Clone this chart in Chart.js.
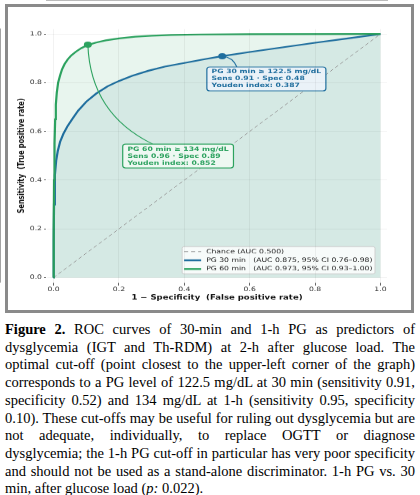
<!DOCTYPE html>
<html>
<head>
<meta charset="utf-8">
<script src="https://cdn.jsdelivr.net/npm/chart.js@4.4.1/dist/chart.umd.min.js"></script>
<style>
  html, body { margin: 0; padding: 0; background: #fff; }
  body { width: 420px; height: 495px; position: relative; overflow: hidden; }
  #frame { position: absolute; left: 5px; top: 4px; width: 409px; height: 309px; box-sizing: border-box;
           border: 3px solid #8a8a8a; background: #fff; }
  #roc { position: absolute; left: 0; top: 0; transform: scaleY(0.77); transform-origin: 0 0; }
  #caption { position: absolute; left: 5px; top: 321px; width: 410px; color: #000;
             font-family: "Liberation Serif", "Times New Roman", serif; font-size: 14.5px; line-height: 17.7px; }
  #caption div { text-align: justify; text-align-last: justify; }
  #caption div.last { text-align-last: left; }
</style>
</head>
<body>
<div id="frame"></div>
<canvas id="roc" width="420" height="405"></canvas>
<div id="caption">
  <div><b>Figure 2.</b> ROC curves of 30-min and 1-h PG as predictors of</div>
  <div>dysglycemia (IGT and Th-RDM) at 2-h after glucose load. The</div>
  <div>optimal cut-off (point closest to the upper-left corner of the graph)</div>
  <div>corresponds to a PG level of 122.5 mg/dL at 30 min (sensitivity 0.91,</div>
  <div>specificity 0.52) and 134 mg/dL at 1-h (sensitivity 0.95, specificity</div>
  <div>0.10). These cut-offs may be useful for ruling out dysglycemia but are</div>
  <div>not adequate, individually, to replace OGTT or diagnose</div>
  <div>dysglycemia; the 1-h PG cut-off in particular has very poor specificity</div>
  <div>and should not be used as a stand-alone discriminator. 1-h PG vs. 30</div>
  <div class="last">min, after glucose load (<i>p:</i> 0.022).</div>
</div>
<script>
// source figure is squashed vertically, canvas gets the same squash
const S = 0.77;

const TICKS = [0, 0.2, 0.4, 0.6, 0.8, 1.0];

const CHANCE_FPR = [0, 1];
const CHANCE_TPR = [0, 1];

const PG30_FPR = [0, 0.0005, 0.0015, 0.004, 0.008, 0.013, 0.02, 0.03, 0.042, 0.057, 0.075, 0.1, 0.13, 0.165,
                  0.2, 0.24, 0.29, 0.34, 0.4, 0.46, 0.516, 0.6, 0.7, 0.8, 0.9, 1.0];
const PG30_TPR = [0, 0.15, 0.3, 0.42, 0.48, 0.52, 0.557, 0.59, 0.62, 0.65, 0.685, 0.722, 0.755, 0.785,
                  0.807, 0.828, 0.849, 0.866, 0.881, 0.896, 0.909, 0.926, 0.945, 0.964, 0.982, 1.0];

const PG60_FPR = [0, 0.0005, 0.0015, 0.003, 0.005, 0.007, 0.01, 0.014, 0.02, 0.026, 0.034, 0.044, 0.055,
                  0.068, 0.085, 0.105, 0.13, 0.16, 0.2, 0.25, 0.3, 0.36, 0.45, 0.6, 1.0];
const PG60_TPR = [0, 0.2, 0.4, 0.55, 0.65, 0.71, 0.76, 0.80, 0.83, 0.855, 0.877, 0.897, 0.913,
                  0.927, 0.942, 0.955, 0.965, 0.974, 0.982, 0.989, 0.993, 0.996, 0.998, 0.999, 1.0];

// optimal cut-offs: PG 30, PG 60
const CUT_FPR = [0.516, 0.105];
const CUT_TPR = [0.909, 0.956];

const LEGEND_LABELS = ['Chance (AUC 0.500)',
                       'PG 30 min   (AUC 0.875, 95% CI 0.76\u20130.98)',
                       'PG 60 min   (AUC 0.973, 95% CI 0.93\u20131.00)'];

const NOTE_30 = ['PG 30 min \u2265 122.5 mg/dL', 'Sens 0.91 \u00b7 Spec 0.48', 'Youden index: 0.387'];
const NOTE_60 = ['PG 60 min \u2265 134 mg/dL', 'Sens 0.96 \u00b7 Spec 0.89', 'Youden index: 0.852'];

const BLUE = '#1f6e9e';
const GREEN = '#2ca25f';

function pts(xs, ys) {
    return xs.map((v, i) => ({x: v, y: ys[i]}));
}

// boxes anchored by top-left corner in data units
const NOTES = [
    {lines: NOTE_30, cut: 0, color: BLUE, bg: '#eaf2f8', box: [0.469, 0.8645], rad: -0.3},
    {lines: NOTE_60, cut: 1, color: GREEN, bg: '#eef8f2', box: [0.2116, 0.548], rad: 0.3}
];

const notesPlugin = {
    id: 'notes',
    afterDatasetsDraw(chart) {
        const ctx = chart.ctx;
        const xs = chart.scales.x, ys = chart.scales.y;
        const lh = 9, padX = 4.7, padY = 2;
        ctx.save();
        ctx.font = 'bold 7.7px "DejaVu Sans"';
        NOTES.forEach(n => {
            const mx = xs.getPixelForValue(CUT_FPR[n.cut]);
            const my = ys.getPixelForValue(CUT_TPR[n.cut]);
            const bx = xs.getPixelForValue(n.box[0]);
            const by = ys.getPixelForValue(n.box[1]);
            const w = Math.max(...n.lines.map(t => ctx.measureText(t).width)) + 2 * padX;
            const h = n.lines.length * lh + 2 * padY;

            // arc connector, bent in screen space
            const ex = bx + 30, ey = by;
            const ax = mx, ay = my * S, cx2 = ex, cy2 = ey * S;
            const midx = (ax + cx2) / 2, midy = (ay + cy2) / 2;
            const dx = cx2 - ax, dy = cy2 - ay;
            const qx = midx - n.rad * dy, qy = (midy + n.rad * dx) / S;
            ctx.beginPath();
            ctx.moveTo(mx, my);
            ctx.quadraticCurveTo(qx, qy, ex, ey);
            ctx.strokeStyle = n.color;
            ctx.lineWidth = 1.1;
            ctx.stroke();

            ctx.beginPath();
            ctx.roundRect(bx, by, w, h, 3);
            ctx.fillStyle = n.bg;
            ctx.fill();
            ctx.lineWidth = 1.2;
            ctx.stroke();

            ctx.fillStyle = n.color;
            ctx.textBaseline = 'middle';
            ctx.textAlign = 'left';
            n.lines.forEach((t, i) => {
                ctx.fillText(t, bx + padX, by + padY + lh * i + lh / 2);
            });
        });
        ctx.restore();
    }
};

const legendPlugin = {
    id: 'boxLegend',
    afterDatasetsDraw(chart) {
        const ctx = chart.ctx;
        const area = chart.chartArea;
        const items = chart.data.datasets.filter(d => d.inLegend);
        const rowH = 11.3, padY = 0.8, handle = 17;
        ctx.save();
        ctx.font = '7.7px "DejaVu Sans"';
        const tw = Math.max(...items.map(d => ctx.measureText(d.label).width));
        const w = 2 + handle + 5 + tw + 2.5;
        const h = items.length * rowH + 2 * padY;
        const right = area.right - 12, bottom = area.bottom - 11;
        const left = right - w, top = bottom - h;

        ctx.beginPath();
        ctx.roundRect(left, top, w, h, 2);
        ctx.fillStyle = 'rgba(255,255,255,0.8)';
        ctx.fill();
        ctx.strokeStyle = '#d0d0d0';
        ctx.lineWidth = 1;
        ctx.stroke();

        items.forEach((d, i) => {
            const cy = top + padY + rowH * i + rowH / 2;
            ctx.beginPath();
            ctx.setLineDash(d.borderDash || []);
            ctx.moveTo(left + 2, cy);
            ctx.lineTo(left + 2 + handle, cy);
            ctx.strokeStyle = d.borderColor;
            ctx.lineWidth = d.borderWidth * 1.1;
            ctx.stroke();
            ctx.setLineDash([]);
            ctx.fillStyle = '#222';
            ctx.textBaseline = 'middle';
            ctx.fillText(d.label, left + 2 + handle + 5, cy);
        });
        ctx.restore();
    }
};

function axis(title, fixSize) {
    return {
        type: 'linear',
        min: -0.02,
        max: 1.02,
        afterBuildTicks: s => { s.ticks = TICKS.map(v => ({value: v})); },
        afterFit: fixSize,
        ticks: {
            callback: v => v.toFixed(1),
            color: '#333',
            font: {family: 'DejaVu Sans', size: 7.7}
        },
        grid: {z: 1, color: 'rgba(0,0,0,0.05)', tickColor: '#666', tickLength: 3},
        border: {color: '#666', width: 1.2},
        title: {display: true, text: title, color: '#111',
                font: {family: 'DejaVu Sans', size: 8.5, weight: 'bold'}}
    };
}

const xAxis = axis('1 \u2212 Specificity  (False positive rate)', s => { s.height = 38.2; });
xAxis.grid.tickLength = 4;
xAxis.ticks.padding = 1;
xAxis.title.padding = {top: 0, bottom: 12.9};

const yAxis = axis('Sensitivity  (True positive rate)', s => { s.width = 47; });
yAxis.ticks.padding = 2;
yAxis.title.padding = {top: 16.6, bottom: 0};

new Chart(document.getElementById('roc'), {
    type: 'scatter',
    data: {
        datasets: [
            {
                label: 'fill 30', data: pts(PG30_FPR, PG30_TPR), showLine: true,
                borderColor: 'transparent', borderWidth: 0, pointRadius: 0,
                fill: 'origin', backgroundColor: '#d5e9e4', order: 5
            },
            {
                label: 'fill 60', data: pts(PG60_FPR, PG60_TPR), showLine: true,
                borderColor: 'transparent', borderWidth: 0, pointRadius: 0,
                fill: 'origin', backgroundColor: '#e8f5ee', order: 6
            },
            {
                label: LEGEND_LABELS[0], data: pts(CHANCE_FPR, CHANCE_TPR), showLine: true,
                borderColor: '#9a9a9a', borderWidth: 1, borderDash: [4, 3], pointRadius: 0,
                order: 3, inLegend: true
            },
            {
                label: LEGEND_LABELS[1], data: pts(PG30_FPR, PG30_TPR), showLine: true,
                borderColor: BLUE, borderWidth: 2.2, pointRadius: 0, order: 2, inLegend: true
            },
            {
                label: LEGEND_LABELS[2], data: pts(PG60_FPR, PG60_TPR), showLine: true,
                borderColor: GREEN, borderWidth: 2.2, pointRadius: 0, order: 1, inLegend: true
            },
            {
                label: 'cut-offs', data: pts(CUT_FPR, CUT_TPR), showLine: false,
                pointRadius: 4, pointBorderWidth: 0, pointBackgroundColor: [BLUE, GREEN], order: 0
            }
        ]
    },
    options: {
        responsive: false,
        animation: false,
        layout: {padding: {left: 0, right: 33, top: 37.8, bottom: 0}},
        scales: {x: xAxis, y: yAxis},
        plugins: {
            legend: {display: false},
            tooltip: {enabled: false}
        }
    },
    plugins: [legendPlugin, notesPlugin]
});
</script>
</body>
</html>
